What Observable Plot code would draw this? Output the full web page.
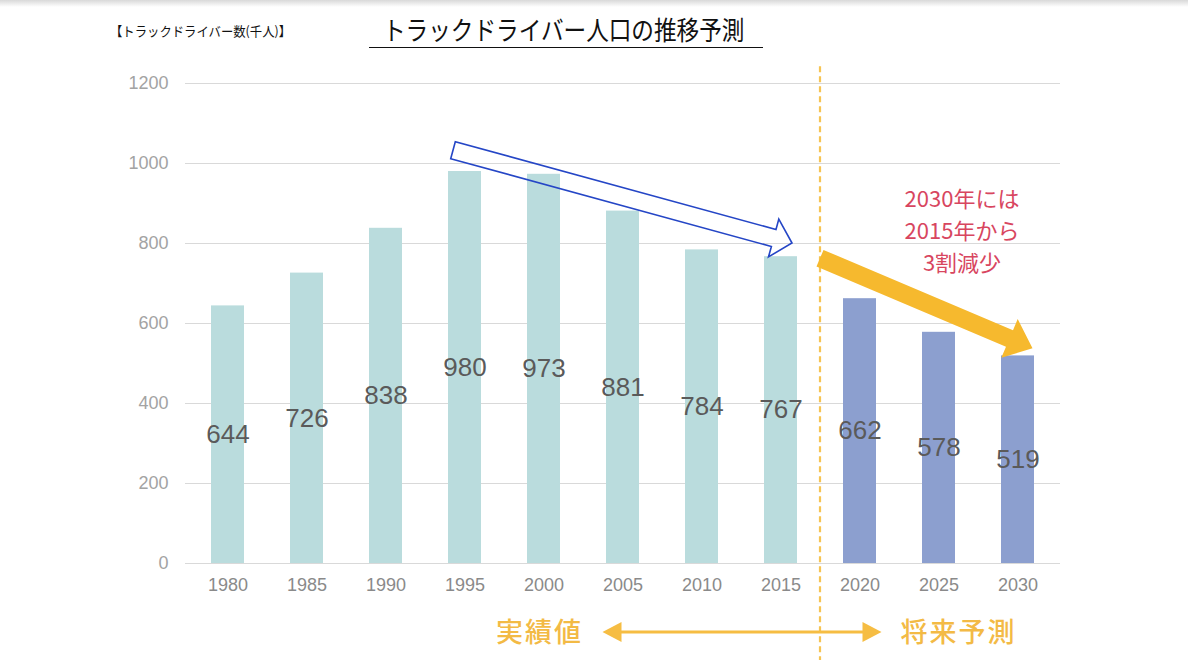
<!DOCTYPE html>
<html>
<head>
<meta charset="utf-8">
<script src="https://cdn.jsdelivr.net/npm/d3@7"></script>
<script src="https://cdn.jsdelivr.net/npm/@observablehq/plot@0.6"></script>
<style>
  html, body { margin: 0; padding: 0; background: #fff; }
  #page { position: relative; width: 1188px; height: 669px; overflow: hidden; background: #fff; }
  #shade { position: absolute; left: 0; top: 0; width: 1188px; height: 7px; background: linear-gradient(#d9d9d9, #ffffff); }
  #unit { position: absolute; left: 110px; top: 21px; font: 13px "Noto Sans CJK JP", sans-serif; color: #111; transform: scaleX(0.95); transform-origin: left center; white-space: nowrap; }
  #title { position: absolute; left: 369px; top: 12px; width: 394px; height: 35px; border-bottom: 1.5px solid #111; }
  #title span { position: absolute; left: 14px; top: 0px; font: 26px "Noto Sans CJK JP", sans-serif; color: #111; transform: scaleX(0.87); transform-origin: left center; white-space: nowrap; line-height: 34px; }
  #chart { position: absolute; left: 0; top: 60px; }
</style>
</head>
<body>
<div id="page">
  <div id="shade"></div>
  <div id="unit">【トラックドライバー数(千人)】</div>
  <div id="title"><span>トラックドライバー人口の推移予測</span></div>
  <div id="chart"></div>
</div>
<script>
// ---- data ----
const years = ["1980", "1985", "1990", "1995", "2000", "2005", "2010", "2015", "2020", "2025", "2030"];
const drivers = [644, 726, 838, 980, 973, 881, 784, 767, 662, 578, 519];
const kinds = ["実績値", "実績値", "実績値", "実績値", "実績値", "実績値", "実績値", "実績値", "将来予測", "将来予測", "将来予測"];
const yTicks = [0, 200, 400, 600, 800, 1000, 1200];
const noteLines = ["2030年には", "2015年から", "3割減少"];
const noteY = [910, 830, 750];

const data = years.map((y, i) => ({year: y, value: drivers[i], kind: kinds[i]}));
const notes = noteLines.map((t, i) => ({text: t, y: noteY[i]}));

const numFont = "'Liberation Sans', Arial, sans-serif";
const jpFont = "'Noto Sans CJK JP', sans-serif";

const plot = Plot.plot({
  width: 1188,
  height: 609,
  marginLeft: 185,
  marginRight: 128,
  marginTop: 23,
  marginBottom: 106,
  style: {fontFamily: numFont, background: "#fff", overflow: "visible"},
  x: {domain: years, paddingInner: 0.585, paddingOuter: 0.2925, label: null},
  y: {domain: [0, 1200], label: null},
  color: {domain: ["実績値", "将来予測"], range: ["#badcdd", "#8c9fcf"]},
  marks: [
    Plot.gridY(yTicks, {stroke: "#d9d9d9", strokeOpacity: 1, strokeWidth: 1.2}),
    Plot.barY(data, {x: "year", y: "value", fill: "kind"}),
    Plot.text(data, {x: "year", y: d => d.value / 2, text: d => String(d.value), fontSize: 26, fill: "#5a5a5a", fontFamily: numFont}),
    Plot.axisX({tickSize: 0, tickPadding: 15, fontSize: 18, fill: "#8a8a8a"}),
    Plot.axisY({ticks: yTicks, tickFormat: d => String(d), tickSize: 0, tickPadding: 17, fontSize: 18, fill: "#a3a3a3"}),
    Plot.text(notes, {x: () => "2025", y: "y", dx: 23, text: "text", fontSize: 22, lineHeight: 1, fill: "#d8465f", fontFamily: jpFont})
  ]
});
document.getElementById("chart").appendChild(plot);

// ---- annotations positioned from the plot's scales ----
const xs = plot.scale("x");
const ys = plot.scale("y");
const cx = v => xs.apply(v) + xs.bandwidth / 2;
const step = xs.step;
const svg = d3.select(plot);
const divX = cx("2015") + step / 2;

function blockArrow(x0, y0, x1, y1, w, h, hl) {
  const dx = x1 - x0, dy = y1 - y0, L = Math.hypot(dx, dy);
  const ux = dx / L, uy = dy / L, nx = -uy, ny = ux;
  const bx = x1 - ux * hl, by = y1 - uy * hl;
  const pts = [
    [x0 + nx * w, y0 + ny * w], [bx + nx * w, by + ny * w], [bx + nx * h, by + ny * h],
    [x1, y1],
    [bx - nx * h, by - ny * h], [bx - nx * w, by - ny * w], [x0 - nx * w, y0 - ny * w]
  ];
  return "M" + pts.map(p => p[0].toFixed(1) + "," + p[1].toFixed(1)).join("L") + "Z";
}

const g = svg.append("g");
// dashed divider
g.append("line")
  .attr("x1", divX).attr("x2", divX)
  .attr("y1", ys.apply(1242)).attr("y2", 600)
  .attr("stroke", "#f6c453").attr("stroke-width", 2.2).attr("stroke-dasharray", "6,4");

// hollow blue arrow
g.append("path")
  .attr("d", blockArrow(cx("1995") - 11.5, ys.apply(1032), cx("2015") + 11.5, ys.apply(800), 8.8, 19.6, 19))
  .attr("fill", "none").attr("stroke", "#2546c6").attr("stroke-width", 1.6).attr("stroke-linejoin", "miter");

// thick yellow arrow
g.append("path")
  .attr("d", blockArrow(divX, ys.apply(762), cx("2030") + 15, ys.apply(537), 9, 21, 25))
  .attr("fill", "#f6b92e");

// bottom double-headed arrow
const by = 572;
const lx = cx("2005") - 20, rx = cx("2020") + 22;
g.append("line").attr("x1", lx + 14).attr("x2", rx - 14).attr("y1", by).attr("y2", by)
  .attr("stroke", "#f6bd43").attr("stroke-width", 3);
g.append("path").attr("d", `M${lx},${by}L${lx + 19},${by - 10}L${lx + 19},${by + 10}Z`).attr("fill", "#f6bd43");
g.append("path").attr("d", `M${rx},${by}L${rx - 19},${by - 10}L${rx - 19},${by + 10}Z`).attr("fill", "#f6bd43");

g.append("text").attr("x", cx("2000") - 4).attr("y", by).attr("dy", "0.36em")
  .attr("text-anchor", "middle").attr("font-family", "Noto Sans CJK JP").attr("font-size", 27)
  .attr("font-weight", 500).attr("letter-spacing", 2).attr("fill", "#f3ba45").text("実績値");
g.append("text").attr("x", cx("2025") + 20).attr("y", by).attr("dy", "0.36em")
  .attr("text-anchor", "middle").attr("font-family", "Noto Sans CJK JP").attr("font-size", 27)
  .attr("font-weight", 500).attr("letter-spacing", 2).attr("fill", "#f3ba45").text("将来予測");
</script>
</body>
</html>
